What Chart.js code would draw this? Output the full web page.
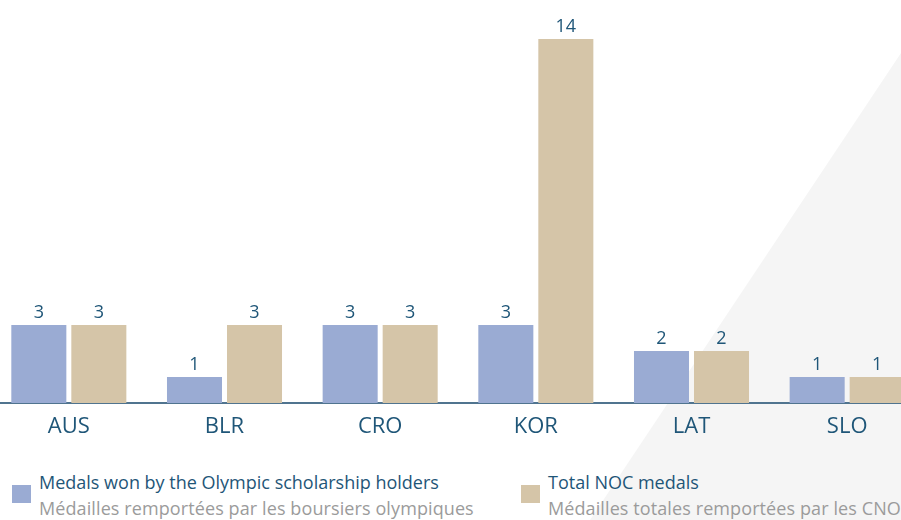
<!DOCTYPE html>
<html>
<head>
<meta charset="utf-8">
<script src="https://cdn.jsdelivr.net/npm/chart.js@4/dist/chart.umd.min.js"></script>
<style>
  html, body { margin: 0; padding: 0; width: 901px; height: 520px; overflow: hidden; background: #ffffff; position: relative; font-family: "Open Sans", "DejaVu Sans", sans-serif; }
  #bgtri { position: absolute; left: 0; top: 0; width: 901px; height: 520px; background: #f5f5f5; clip-path: polygon(901px 53px, 901px 520px, 590px 520px); }
  #wrap { position: absolute; left: -9px; top: 0; width: 934px; height: 470px; }
  .leg { position: absolute; top: 470px; }
  .sw { position: absolute; width: 19px; height: 18px; top: 15px; }
  .l1 { position: absolute; left: 27px; top: 0px; white-space: nowrap; font-size: 18px; color: #1f5678; }
  .l2 { position: absolute; left: 27px; top: 26px; white-space: nowrap; font-size: 18px; color: #9b9b9b; letter-spacing: 0.1px; }
</style>
</head>
<body>
<div id="bgtri"></div>
<div id="wrap"><canvas id="c"></canvas></div>
<div class="leg" style="left:12px;"><div class="sw" style="background:#9aabd3"></div><div class="l1">Medals won by the Olympic scholarship holders</div><div class="l2">Médailles remportées par les boursiers olympiques</div></div>
<div class="leg" style="left:521px;"><div class="sw" style="background:#d5c5a8"></div><div class="l1">Total NOC medals</div><div class="l2">Médailles totales remportées par les CNO</div></div>
<script>
const categories = ["AUS", "BLR", "CRO", "KOR", "LAT", "SLO"];
const scholarMedals = [3, 1, 3, 3, 2, 1];
const nocMedals = [3, 3, 3, 14, 2, 1];
const seriesNames = ["Medals won by the Olympic scholarship holders", "Total NOC medals"];

const valueLabels = {
  id: 'valueLabels',
  afterDatasetsDraw(chart) {
    const ctx = chart.ctx;
    ctx.save();
    ctx.font = '18px "Open Sans", sans-serif';
    ctx.fillStyle = '#1f5678';
    ctx.textAlign = 'center';
    ctx.textBaseline = 'bottom';
    chart.data.datasets.forEach((ds, i) => {
      chart.getDatasetMeta(i).data.forEach((el, j) => {
        ctx.fillText(String(ds.data[j]), el.x, el.y - 3);
      });
    });
    ctx.restore();
  }
};

new Chart(document.getElementById('c'), {
  type: 'bar',
  data: {
    labels: categories,
    datasets: [
      { label: seriesNames[0], data: scholarMedals, backgroundColor: '#9aabd3' },
      { label: seriesNames[1], data: nocMedals, backgroundColor: '#d5c5a8' }
    ]
  },
  options: {
    responsive: true,
    maintainAspectRatio: false,
    animation: false,
    layout: { padding: 0 },
    categoryPercentage: 0.771,
    barPercentage: 0.917,
    plugins: { legend: { display: false }, tooltip: { enabled: false } },
    scales: {
      x: {
        grid: { display: false, drawTicks: false },
        border: { display: true, color: '#50748f', width: 2 },
        ticks: { color: '#1f5678', font: { size: 22, family: '"Open Sans", sans-serif' }, padding: 11 },
        afterFit(scale) { scale.height = 67; }
      },
      y: {
        display: false,
        min: 0,
        max: 15.5
      }
    }
  },
  plugins: [valueLabels]
});
</script>
</body>
</html>
